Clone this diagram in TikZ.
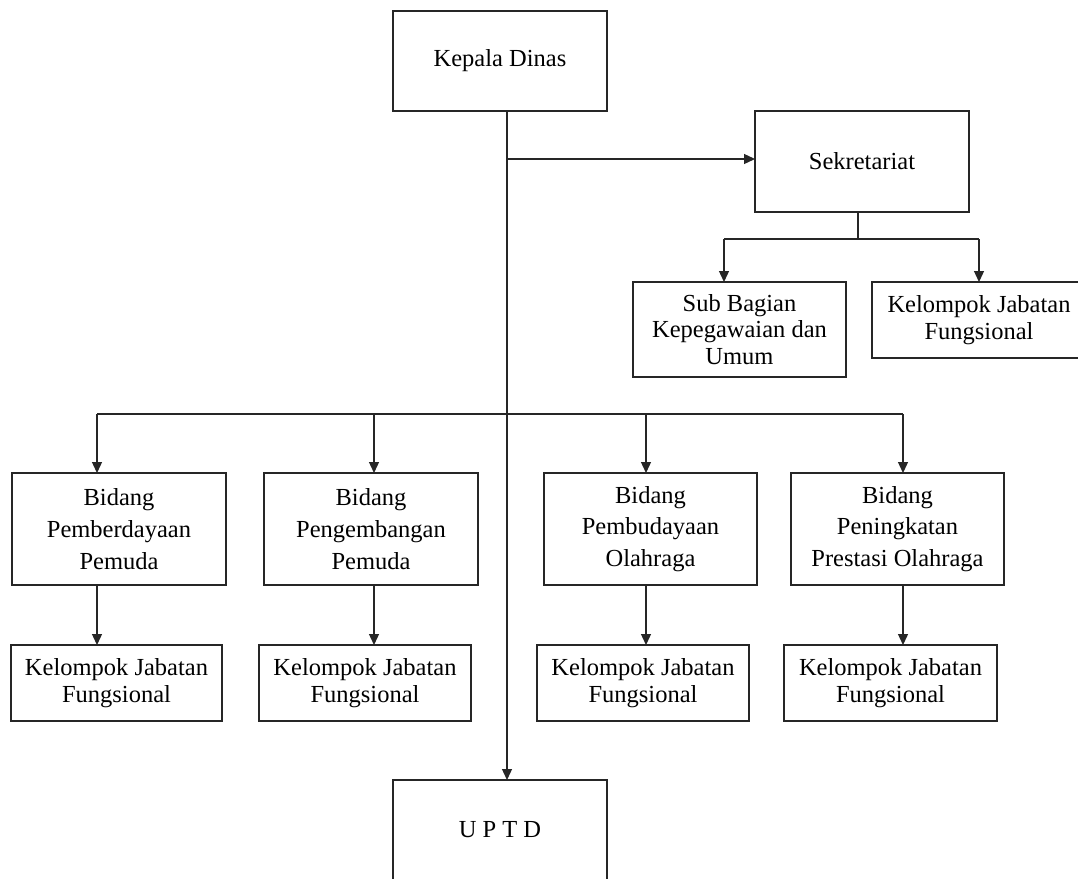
\documentclass[tikz,border=0pt]{standalone}
\usepackage{fontspec}
\setmainfont{Liberation Serif}
\usetikzlibrary{arrows.meta}
\definecolor{linegray}{HTML}{262626}
\tikzset{
  orgbox/.style={draw=linegray, line width=1.3pt, align=center, inner sep=0pt, outer sep=0pt,
    font=\fontsize{24.5}{26.7}\selectfont},
  widebox/.style={orgbox, font=\fontsize{24.5}{31.7}\selectfont},
  conn/.style={draw=linegray, line width=1.3pt},
  arr/.style={conn, -{Triangle[length=11pt,width=10pt]}}
}
\begin{document}
\begin{tikzpicture}[x=1pt,y=-1pt]
\useasboundingbox (0,0) rectangle (1078,878);
\clip (0,0) rectangle (1078,878);
\fill[white] (0,0) rectangle (1078,878);

\node[orgbox, minimum width=214pt, minimum height=100pt] (kep) at (500,61) {Kepala Dinas};
\node[orgbox, minimum width=214pt, minimum height=101pt] (sek) at (862,161.5) {Sekretariat};
\node[orgbox, minimum width=213pt, minimum height=95pt] (sub) at (739.5,329.5) {Sub Bagian\\Kepegawaian dan\\Umum};
\node[orgbox, minimum width=214pt, minimum height=76pt] (kjfr) at (979,320) {Kelompok Jabatan\\Fungsional};

\node[widebox, minimum width=214pt, minimum height=112pt] (bid1) at (119,529) {Bidang\\Pemberdayaan\\Pemuda};
\node[widebox, minimum width=214pt, minimum height=112pt] (bid2) at (371,529) {Bidang\\Pengembangan\\Pemuda};
\node[widebox, minimum width=213pt, minimum height=112pt] (bid3) at (650.5,529) {Bidang\\Pembudayaan\\Olahraga};
\node[widebox, minimum width=213pt, minimum height=112pt] (bid4) at (897.5,529) {Bidang\\Peningkatan\\Prestasi Olahraga};

\node[orgbox, minimum width=211pt, minimum height=76pt] (kjf1) at (116.5,683) {Kelompok Jabatan\\Fungsional};
\node[orgbox, minimum width=212pt, minimum height=76pt] (kjf2) at (365,683) {Kelompok Jabatan\\Fungsional};
\node[orgbox, minimum width=212pt, minimum height=76pt] (kjf3) at (643,683) {Kelompok Jabatan\\Fungsional};
\node[orgbox, minimum width=213pt, minimum height=76pt] (kjf4) at (890.5,683) {Kelompok Jabatan\\Fungsional};

\node[orgbox, minimum width=214pt, minimum height=100pt] (uptd) at (500,830) {U P T D};

% junction coordinates
\coordinate (mx) at (507,0);
\coordinate (jsek) at (507,159);
\coordinate (jbid) at (507,414);
\coordinate (hb1) at (97,414);
\coordinate (hb2) at (374,414);
\coordinate (hb3) at (646,414);
\coordinate (hb4) at (903,414);
\coordinate (ssx) at (858,0);
\coordinate (js) at (858,239);
\coordinate (hs1) at (724,239);
\coordinate (hs2) at (979,239);

% main spine
\draw[arr] (kep.south -| mx) -- (uptd.north -| mx);
% to Sekretariat
\draw[arr] (jsek) -- (jsek -| sek.west);
% Sekretariat branch
\draw[conn] (sek.south -| ssx) -- (js);
\draw[conn] (hs1) -- (hs2);
\draw[arr] (hs1) -- (hs1 |- sub.north);
\draw[arr] (hs2) -- (hs2 |- kjfr.north);
% Bidang branch
\draw[conn] (hb1) -- (hb4);
\draw[arr] (hb1) -- (hb1 |- bid1.north);
\draw[arr] (hb2) -- (hb2 |- bid2.north);
\draw[arr] (hb3) -- (hb3 |- bid3.north);
\draw[arr] (hb4) -- (hb4 |- bid4.north);
% Bidang to Kelompok
\draw[arr] (hb1 |- bid1.south) -- (hb1 |- kjf1.north);
\draw[arr] (hb2 |- bid2.south) -- (hb2 |- kjf2.north);
\draw[arr] (hb3 |- bid3.south) -- (hb3 |- kjf3.north);
\draw[arr] (hb4 |- bid4.south) -- (hb4 |- kjf4.north);
\end{tikzpicture}
\end{document}
